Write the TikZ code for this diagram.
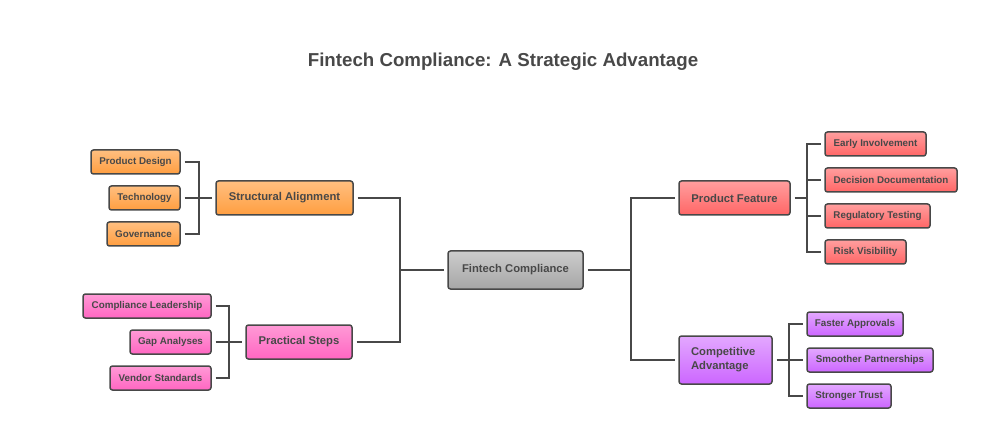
\documentclass[tikz,border=0pt]{standalone}
\usepackage{fontspec}
\setmainfont{Liberation Sans}
\usepackage{tikz}
\usetikzlibrary{positioning, calc}

\definecolor{ink}{HTML}{484848}
\tikzset{
  box/.style={draw=ink, line width=1.5pt, rounded corners=2.5pt, outer sep=0pt, inner sep=0pt,
    text=ink, font=\bfseries\fontsize{11.25}{14}\selectfont, minimum height=34pt},
  leaf/.style={box, font=\bfseries\fontsize{9.8}{12}\selectfont, minimum height=24pt},
  orangebox/.style={top color=orangetop, bottom color=orangebot},
  pinkbox/.style={top color=pinktop, bottom color=pinkbot},
  redbox/.style={top color=redtop, bottom color=redbot},
  purplebox/.style={top color=purpletop, bottom color=purplebot},
  linkout/.style={draw=ink, line width=1.5pt, shorten <=4.5pt},
  linkin/.style={draw=ink, line width=1.5pt, shorten >=4.5pt}
}
\definecolor{orangetop}{HTML}{FFBF80}
\definecolor{orangebot}{HTML}{FF9E40}
\definecolor{pinktop}{HTML}{FF9AD6}
\definecolor{pinkbot}{HTML}{FF66C2}
\definecolor{redtop}{HTML}{FF9E9E}
\definecolor{redbot}{HTML}{FF6666}
\definecolor{purpletop}{HTML}{E3A8FF}
\definecolor{purplebot}{HTML}{CC66FF}

\begin{document}
\begin{tikzpicture}[x=1pt, y=-1pt]
\useasboundingbox (0,0) rectangle (1006,438);

% Title
\node[text=ink, font=\bfseries\fontsize{18.7}{24}\selectfont] (title) at (503,62) {Fintech Compliance: A Strategic Advantage};

% Centre
\node[box, minimum width=135pt, minimum height=38pt, top color=black!20, bottom color=black!35] (fintech) at (515.5,270) {Fintech Compliance};

% Left branches
\node[box, orangebox, minimum width=137pt] (structural) at (284.5,198) {Structural Alignment};
\node[box, pinkbox, minimum width=106pt] (practical) at (299,342) {Practical Steps};

% Right branches
\node[box, redbox, minimum width=111pt] (feature) at (734.5,198) {Product Feature};
\node[box, purplebox, minimum width=93pt, minimum height=48pt, align=left, text width=69pt] (advantage) at (725.5,360) {Competitive\\Advantage};

% Leaves of structural
\node[leaf, orangebox, minimum width=89pt] (design) at (135.5,162) {Product Design};
\node[leaf, orangebox, minimum width=71pt] (tech) at (144.5,198) {Technology};
\node[leaf, orangebox, minimum width=73pt] (gov) at (143.5,234) {Governance};

% Leaves of practical
\node[leaf, pinkbox, minimum width=128pt] (leadership) at (147,306) {Compliance Leadership};
\node[leaf, pinkbox, minimum width=81pt] (gap) at (170.5,342) {Gap Analyses};
\node[leaf, pinkbox, minimum width=101pt] (vendor) at (160.5,378) {Vendor Standards};

% Leaves of feature
\node[leaf, redbox, minimum width=101pt] (early) at (875.5,144) {Early Involvement};
\node[leaf, redbox, minimum width=132pt] (decision) at (891,180) {Decision Documentation};
\node[leaf, redbox, minimum width=105pt] (testing) at (877.5,216) {Regulatory Testing};
\node[leaf, redbox, minimum width=81pt] (risk) at (865.5,252) {Risk Visibility};

% Leaves of advantage
\node[leaf, purplebox, minimum width=96pt] (faster) at (855,324) {Faster Approvals};
\node[leaf, purplebox, minimum width=126pt] (smoother) at (870,360) {Smoother Partnerships};
\node[leaf, purplebox, minimum width=84pt] (trust) at (849,396) {Stronger Trust};

% Bus points
\coordinate (busleft) at (400,270);
\coordinate (busright) at (631,270);
\coordinate (busstruct) at (199,198);
\coordinate (buspract) at (229,342);
\coordinate (busfeat) at (807,198);
\coordinate (busadv) at (789,360);

% Main connectors
\draw[linkout] (fintech.west) -- (busleft);
\draw[linkout] (fintech.east) -- (busright);
\draw[linkout] (structural.east) -| (busleft);
\draw[linkout] (practical.east) -| (busleft);
\draw[linkin] (busright) |- (feature.west);
\draw[linkin] (busright) |- (advantage.west);

% Leaf connectors
\foreach \n in {design,tech,gov} \draw[linkout] (\n.east) -| (busstruct);
\foreach \n in {leadership,gap,vendor} \draw[linkout] (\n.east) -| (buspract);
\foreach \n in {early,decision,testing,risk} \draw[linkin] (busfeat) |- (\n.west);
\foreach \n in {faster,smoother,trust} \draw[linkin] (busadv) |- (\n.west);
\draw[linkin] (busstruct) -- (structural.west);
\draw[linkin] (buspract) -- (practical.west);
\draw[linkout] (feature.east) -- (busfeat);
\draw[linkout] (advantage.east) -- (busadv);
\end{tikzpicture}
\end{document}
